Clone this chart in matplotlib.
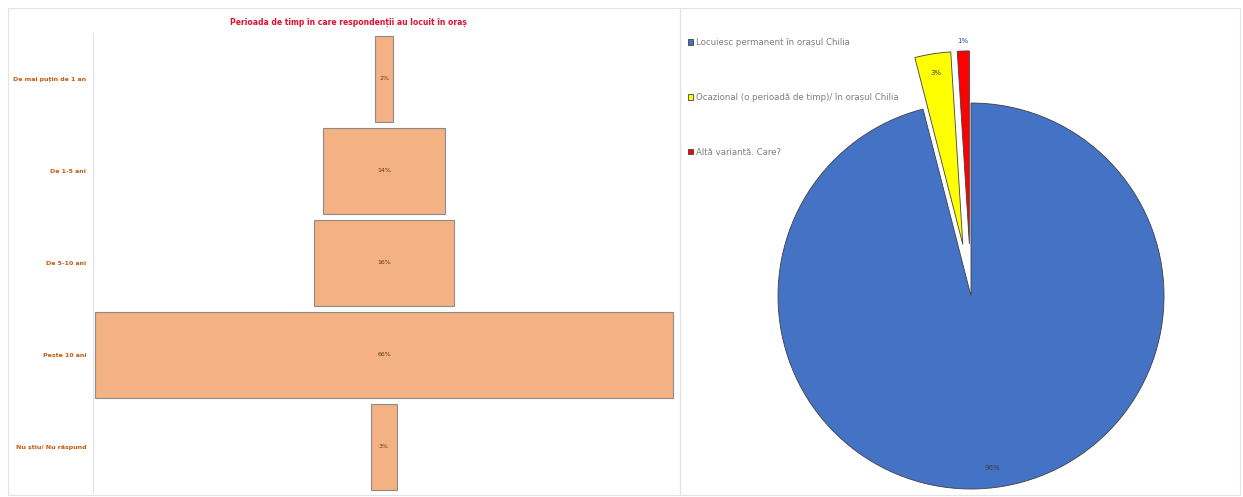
import numpy as np
import matplotlib
matplotlib.use("Agg")
import matplotlib.pyplot as plt
from matplotlib.patches import Rectangle

# left panel: funnel of time lived in the town
categories = ["De mai puțin de 1 an", "De 1-5 ani", "De 5-10 ani", "Peste 10 ani", "Nu știu/ Nu răspund"]
shares = [2, 14, 16, 66, 3]
bar_title = "Perioada de timp în care respondenții au locuit în oraș"

# right panel: pie of residence type
pie_labels = ["Locuiesc permanent în orașul Chilia",
              "Ocazional (o perioadă de timp)/ în orașul Chilia",
              "Altă variantă. Care?"]
pie_values = [96, 3, 1]
pie_colors = ["#4472C4", "#FFFF00", "#FF0000"]

W, H = 1243, 497
fig = plt.figure(figsize=(W / 100, H / 100), dpi=100)
fig.patch.set_facecolor("white")

# panel frames
for x0, x1 in [(8, 680), (680, 1240)]:
    fig.patches.append(Rectangle((x0 / W, 2 / H), (x1 - x0) / W, (H - 10) / H,
                                 transform=fig.transFigure, fill=False,
                                 edgecolor="#E3E3E3", linewidth=0.8))

# ---- funnel ----
ax = fig.add_axes([93 / W, 4 / H, 582 / W, 460 / H])
y = np.arange(len(categories))
vals = np.array(shares, dtype=float)
ax.barh(y, vals, left=-vals / 2, height=0.94, color="#F4B183",
        edgecolor="#8C8C8C", linewidth=0.8)
for yi, v in zip(y, shares):
    ax.text(0, yi, f"{v}%", ha="center", va="center", fontsize=4.5, color="#5A3A1A")
ax.set_xlim(-33.2, 33.2)
ax.set_ylim(len(categories) - 0.5, -0.5)
ax.set_yticks(y)
ax.set_yticklabels(categories, fontsize=4.5, color="#C55A11", fontweight="bold")
ax.tick_params(axis="y", length=0, pad=5)
ax.set_xticks([])
for s in ["top", "right", "bottom"]:
    ax.spines[s].set_visible(False)
ax.spines["left"].set_color("#E3E3E3")
fig.text(348 / W, 1 - 22 / H, bar_title, ha="center", va="center",
         fontsize=5.5, color="#E0102E", fontweight="bold")

# ---- pie ----
cx, cy, r = 971, H - 296, 193
pax = fig.add_axes([690 / W, 5 / H, 545 / W, 487 / H])
wedges, texts, autotexts = pax.pie(
    pie_values, colors=pie_colors, startangle=90, counterclock=False,
    explode=[0, 0.27, 0.27], autopct="%1.0f%%", pctdistance=0.9,
    wedgeprops=dict(edgecolor="#404040", linewidth=0.6),
    textprops=dict(fontsize=5, color="#404040"))
pax.set_aspect("auto")
pax.set_xlim((690 - cx) / r, (1235 - cx) / r)
pax.set_ylim((5 - cy) / r, (492 - cy) / r)
pax.axis("off")
# push the smallest slice label just outside its wedge
w = wedges[2]
mid = np.deg2rad((w.theta1 + w.theta2) / 2)
autotexts[2].set_position((1.32 * np.cos(mid), 1.32 * np.sin(mid)))
autotexts[2].set_color("#2F4F8F")

leg = fig.legend(wedges, pie_labels, loc="upper left",
                 bbox_to_anchor=(688 / W, 1 - 38 / H), frameon=False,
                 fontsize=6.2, labelcolor="#7F7F7F", labelspacing=5.3,
                 handlelength=0.6, handleheight=0.6, handletextpad=0.3,
                 borderaxespad=0, borderpad=0)

fig.savefig("out.png", dpi=100)
